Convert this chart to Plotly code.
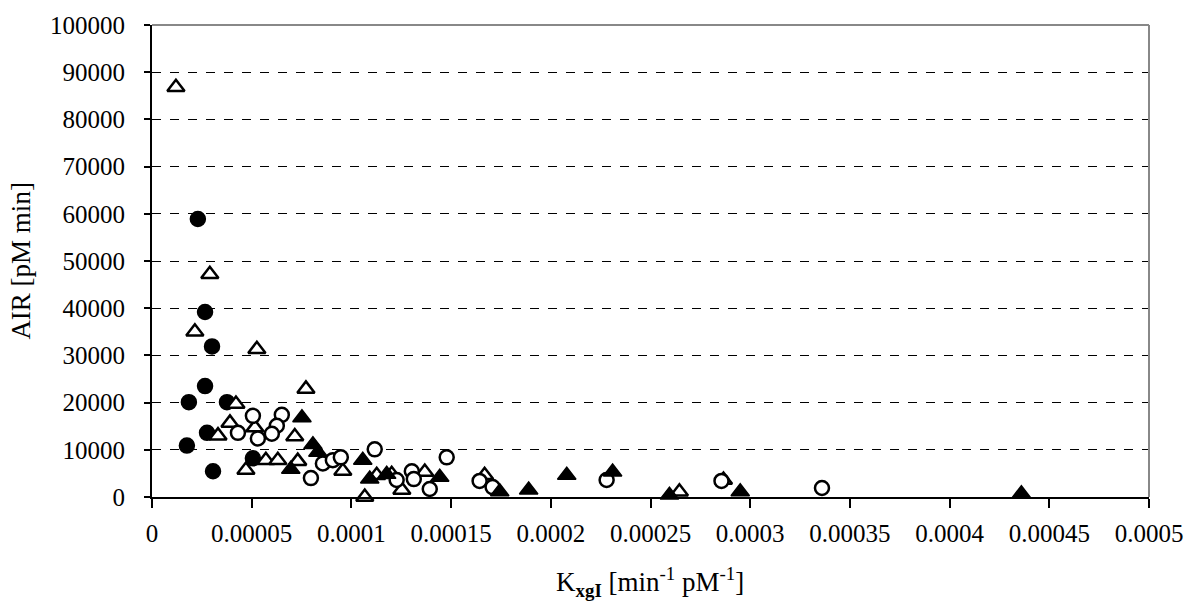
import plotly.graph_objects as go

# ---- data ----
filled_circle_x = [2.30e-5, 2.66e-5, 3.01e-5, 2.66e-5, 1.85e-5, 3.76e-5, 2.76e-5, 1.75e-5, 3.06e-5, 5.06e-5]
filled_circle_y = [58900, 39200, 31900, 23500, 20100, 20100, 13600, 10900, 5450, 8200]

open_circle_x = [5.06e-5, 6.51e-5, 4.31e-5, 5.31e-5, 6.26e-5, 6.01e-5, 7.97e-5, 8.57e-5, 9.07e-5, 9.47e-5,
                 1.117e-4, 1.227e-4, 1.303e-4, 1.313e-4, 1.393e-4, 1.478e-4, 1.643e-4, 1.708e-4,
                 2.28e-4, 2.856e-4, 3.36e-4]
open_circle_y = [17200, 17400, 13600, 12400, 15100, 13400, 4000, 7100, 7800, 8400,
                 10100, 3600, 5450, 3800, 1700, 8400, 3400, 2100,
                 3600, 3400, 1900]

filled_tri_x = [7.52e-5, 8.07e-5, 8.32e-5, 6.96e-5, 1.057e-4, 1.092e-4, 1.177e-4, 1.443e-4,
                1.744e-4, 1.889e-4, 2.08e-4, 2.31e-4, 2.595e-4, 2.95e-4, 4.36e-4]
filled_tri_y = [16800, 11100, 9500, 5900, 7800, 3800, 4800, 4200,
                1100, 1500, 4600, 5300, 400, 1100, 700]

open_tri_x = [1.2e-5, 2.9e-5, 2.15e-5, 5.26e-5, 7.72e-5, 4.21e-5, 3.91e-5, 5.16e-5, 3.31e-5, 7.16e-5,
              4.71e-5, 5.71e-5, 6.31e-5, 7.31e-5, 9.57e-5, 1.067e-4, 1.127e-4, 1.202e-4, 1.253e-4,
              1.368e-4, 1.668e-4, 2.645e-4, 2.866e-4]
open_tri_y = [86800, 47200, 35000, 31300, 22900, 19700, 15700, 14700, 13000, 12800,
              5700, 7800, 7800, 7600, 5500, 0, 4600, 4800, 1500,
              5300, 4600, 1100, 3600]

x_tick_vals = [0, 0.00005, 0.0001, 0.00015, 0.0002, 0.00025, 0.0003, 0.00035, 0.0004, 0.00045, 0.0005]
x_tick_text = ["0", "0.00005", "0.0001", "0.00015", "0.0002", "0.00025", "0.0003", "0.00035",
               "0.0004", "0.00045", "0.0005"]
y_tick_vals = [0, 10000, 20000, 30000, 40000, 50000, 60000, 70000, 80000, 90000, 100000]
y_tick_text = [str(v) for v in y_tick_vals]

x_title = "K<sub><b>xgI</b></sub> [min<sup>-1</sup> pM<sup>-1</sup>]"
y_title = "AIR [pM min]"

FONT = "Liberation Serif, Times New Roman, serif"

fig = go.Figure()

fig.add_trace(go.Scatter(
    x=filled_circle_x, y=filled_circle_y, mode="markers", cliponaxis=False,
    marker=dict(symbol="circle", size=15, color="black", line=dict(color="black", width=1.5)),
    showlegend=False))
fig.add_trace(go.Scatter(
    x=open_tri_x, y=open_tri_y, mode="markers", cliponaxis=False,
    marker=dict(symbol="triangle-up", size=15, color="white", line=dict(color="black", width=2.5)),
    showlegend=False))
fig.add_trace(go.Scatter(
    x=open_circle_x, y=open_circle_y, mode="markers", cliponaxis=False,
    marker=dict(symbol="circle", size=14, color="white", line=dict(color="black", width=2.5)),
    showlegend=False))
fig.add_trace(go.Scatter(
    x=filled_tri_x, y=filled_tri_y, mode="markers", cliponaxis=False,
    marker=dict(symbol="triangle-up", size=16, color="black", line=dict(color="black", width=1.5)),
    showlegend=False))

fig.update_layout(
    width=1195, height=608,
    margin=dict(l=152, r=45, t=20, b=111, pad=0),
    paper_bgcolor="white", plot_bgcolor="white",
    font=dict(family=FONT, color="black", size=25),
    xaxis=dict(
        range=[0, 0.0005], tickvals=x_tick_vals, ticktext=x_tick_text,
        showgrid=False, zeroline=False,
        showline=True, linecolor="black", linewidth=2,
        ticks="outside", ticklen=9, tickwidth=1.5, tickcolor="black",
        tickfont=dict(family=FONT, size=25, color="black"),
        ticklabelstandoff=4,
    ),
    yaxis=dict(
        range=[0, 100000], tickvals=y_tick_vals, ticktext=y_tick_text,
        showgrid=True, gridcolor="black", gridwidth=1, griddash="dash",
        zeroline=False,
        showline=True, linecolor="black", linewidth=2,
        ticks="outside", ticklen=6, tickwidth=1.5, tickcolor="black",
        tickfont=dict(family=FONT, size=25, color="black"),
        ticklabelstandoff=14,
    ),
    shapes=[
        dict(type="line", xref="paper", yref="paper", x0=0, x1=1, y0=1, y1=1,
             line=dict(color="#888888", width=2), layer="above"),
        dict(type="line", xref="paper", yref="paper", x0=1, x1=1, y0=0, y1=1,
             line=dict(color="#888888", width=2), layer="above"),
    ],
    annotations=[
        dict(text=x_title, xref="paper", yref="paper", x=0.499, y=-0.18,
             xanchor="center", yanchor="middle", showarrow=False,
             font=dict(family=FONT, size=27, color="black")),
        dict(text=y_title, xref="paper", yref="paper", x=-0.1323, y=0.501,
             xanchor="center", yanchor="middle", showarrow=False, textangle=-90,
             font=dict(family=FONT, size=27, color="black")),
    ],
)

fig.write_html("out.html")
